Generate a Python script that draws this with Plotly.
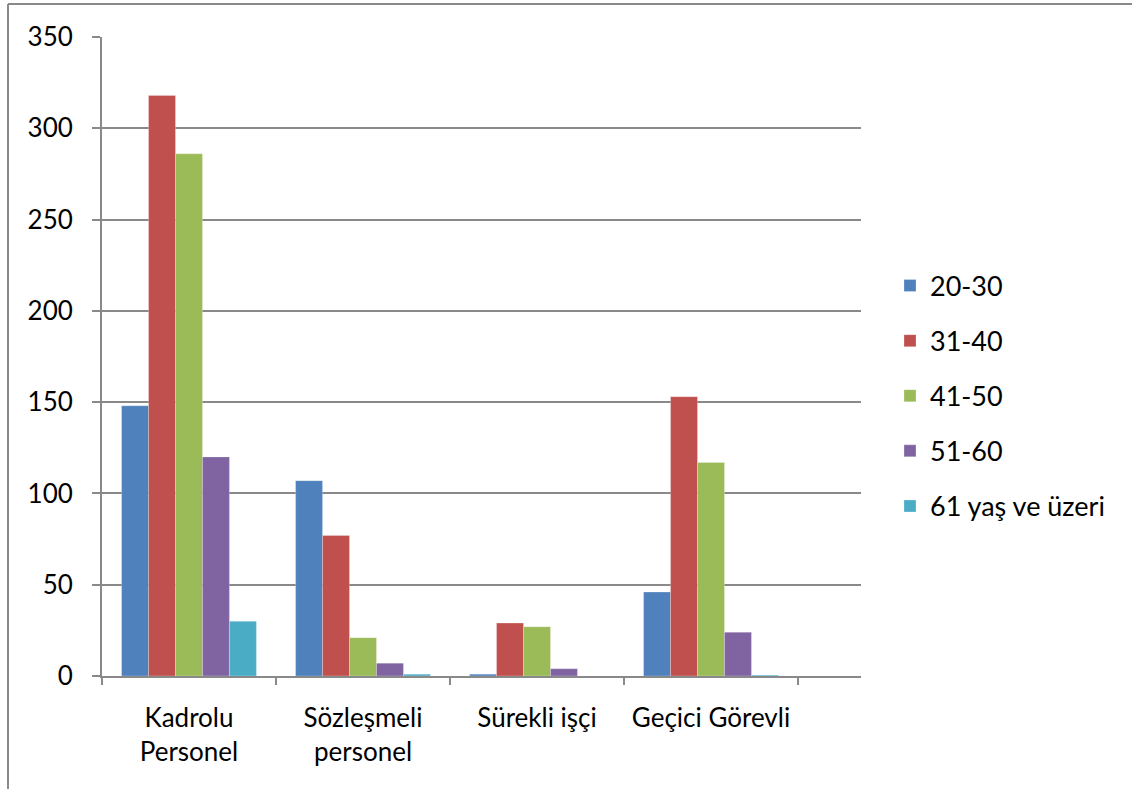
import plotly.graph_objects as go

categories = ["Kadrolu<br>Personel", "Sözleşmeli<br>personel", "Sürekli işçi", "Geçici Görevli"]
series_names = ["20-30", "31-40", "41-50", "51-60", "61 yaş ve üzeri"]
v_20_30 = [148, 107, 1, 46]
v_31_40 = [318, 77, 29, 153]
v_41_50 = [286, 21, 27, 117]
v_51_60 = [120, 7, 4, 24]
v_61_up = [30, 1, 0, 0.5]
series_values = [v_20_30, v_31_40, v_41_50, v_51_60, v_61_up]
colors = ["#4F81BD", "#C0504D", "#9BBB59", "#8064A2", "#4BACC6"]

FONT = "Lato"
fig = go.Figure()
for i, (name, vals) in enumerate(zip(series_names, series_values)):
    fig.add_trace(go.Bar(
        x=categories, y=vals, name=name, legendgroup=name,
        marker=dict(color=colors[i], line=dict(color="rgba(255,255,255,0.5)", width=0.5)),
    ))

W, H = 1132, 789
L, R, T, B = 102, 271, 37, 113
pw, ph = W - L - R, H - T - B

fig.update_layout(
    width=W, height=H,
    margin=dict(l=L, r=R, t=T, b=B),
    paper_bgcolor="white", plot_bgcolor="white",
    barmode="group", bargap=0.225, bargroupgap=0,
    font=dict(family=FONT, size=25, color="black"),
    showlegend=True,
    legend=dict(x=(890 - L) / pw, xanchor="left", y=(H - B - 396) / ph, yanchor="middle",
                font=dict(family=FONT, size=27, color="black"),
                tracegroupgap=17, itemwidth=30, bgcolor="rgba(0,0,0,0)"),
)
fig.update_xaxes(
    type="category", range=[-0.5, 3.5 + 63 / 174],
    showline=True, linecolor="#898989", linewidth=2,
    ticks="outside", ticklen=7, tickcolor="#898989", tickwidth=2,
    tickson="boundaries", showgrid=False, ticklabelstandoff=18,
    tickfont=dict(family=FONT, size=26, color="black"),
)
fig.update_yaxes(
    range=[0, 350], dtick=50, tick0=0,
    showline=True, linecolor="#898989", linewidth=2,
    ticks="outside", ticklen=8, tickcolor="#898989", tickwidth=2,
    showgrid=True, gridcolor="#898989", gridwidth=2,
    zeroline=False, ticklabelstandoff=14,
    tickfont=dict(family=FONT, size=26, color="black"),
)

# outer chart frame (left and top edges visible)
xl = (8 - L) / pw
yt = 1 + (T - 4) / ph
fig.add_shape(type="line", xref="paper", yref="paper", x0=xl, x1=xl, y0=yt, y1=-0.3,
              line=dict(color="#898989", width=2))
fig.add_shape(type="line", xref="paper", yref="paper", x0=xl, x1=1.5, y0=yt, y1=yt,
              line=dict(color="#898989", width=2))

fig.write_html("out.html", config={"displayModeBar": False},
               post_script="document.body.style.margin='0';")
